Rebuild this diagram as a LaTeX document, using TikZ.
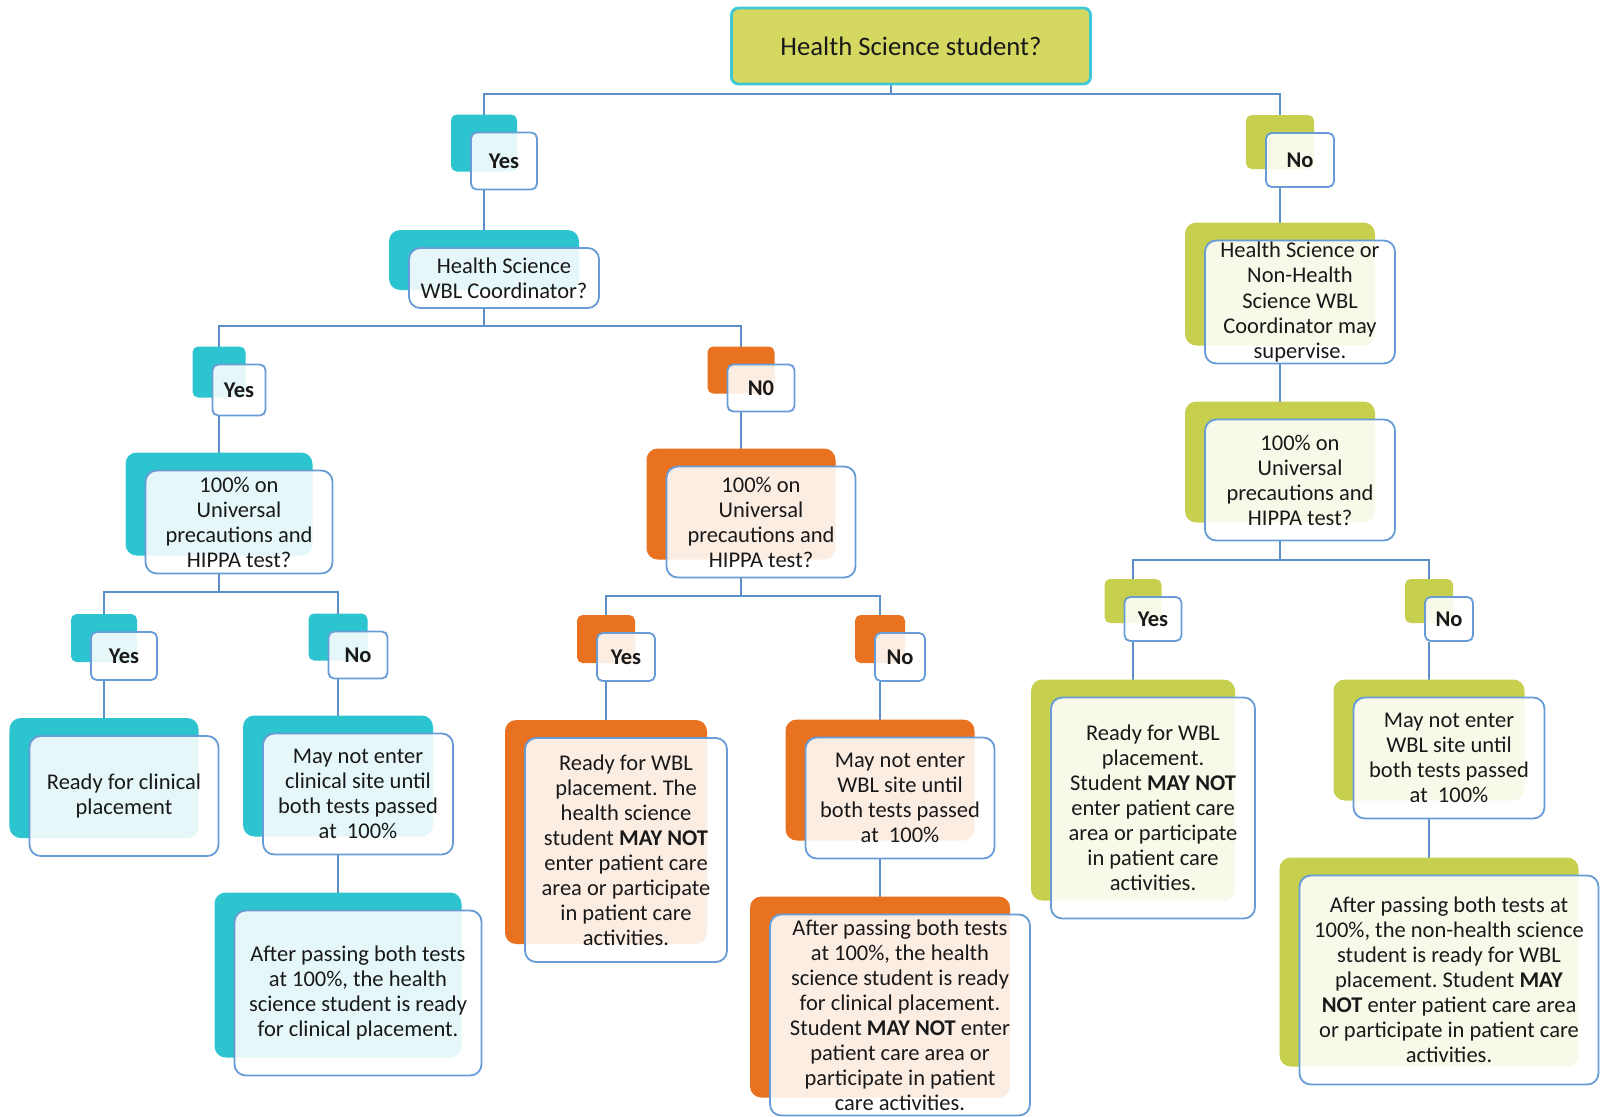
\documentclass[tikz,border=0pt]{standalone}
\usepackage{fontspec}
\setmainfont{Carlito}
\usepackage{tikz}
\usetikzlibrary{shadows, backgrounds}
\definecolor{cyanBox}{RGB}{44, 196, 206}
\definecolor{orangeBox}{RGB}{232, 114, 32}
\definecolor{limeBox}{RGB}{198, 208, 78}
\definecolor{topFill}{RGB}{212, 215, 96}
\definecolor{topBorder}{RGB}{62, 200, 212}
\definecolor{edgeBlue}{RGB}{104, 156, 214}
\definecolor{lineBlue}{RGB}{92, 142, 200}
\tikzstyle{titleNode} = [rectangle, rounded corners=5pt, minimum width=8.975cm, minimum height=1.9cm, text centered, draw=topBorder, line width=2pt, fill=topFill, text=black!90, font=\fontsize{19}{22}\selectfont]
\tikzstyle{answerNode} = [rectangle, rounded corners=4pt, inner sep=0pt, text centered, draw=edgeBlue, line width=1.3pt, fill=white, fill opacity=0.88, text opacity=1, text=black!90, font=\bfseries\fontsize{16}{18}\selectfont]
\tikzstyle{branchNode} = [rectangle, rounded corners=8pt, inner sep=0pt, align=center, draw=edgeBlue, line width=1.3pt, fill=white, fill opacity=0.88, text opacity=1, text=black!90, font=\fontsize{16}{17.8}\selectfont]
\tikzstyle{cyanBack} = [general shadow={shadow xshift=-0.5cm, shadow yshift=0.45cm, draw=none, fill=cyanBox, fill opacity=1}]
\tikzstyle{orangeBack} = [general shadow={shadow xshift=-0.5cm, shadow yshift=0.45cm, draw=none, fill=orangeBox, fill opacity=1}]
\tikzstyle{limeBack} = [general shadow={shadow xshift=-0.5cm, shadow yshift=0.45cm, draw=none, fill=limeBox, fill opacity=1}]
\tikzstyle{connector} = [line width=1.5pt, draw=lineBlue]
\frenchspacing

\begin{document}
\begin{tikzpicture}[node distance=3cm]
    \useasboundingbox (0,0) rectangle (40,-27.9);
    \node (top) [titleNode] at (22.775,-1.15) {Health Science student?};
    % Yes branch
    \node (yes1) [answerNode, cyanBack, minimum width=1.65cm, minimum height=1.425cm, below of=top, xshift=-10.175cm, yshift=0.125cm] {Yes};
    \node (hswbl) [branchNode, cyanBack, minimum width=4.75cm, minimum height=1.5cm, below of=yes1, yshift=0.075cm] {Health Science\\WBL Coordinator?};
    \node (yes2) [answerNode, cyanBack, minimum width=1.325cm, minimum height=1.275cm, below of=hswbl, xshift=-6.625cm, yshift=0.2cm] {Yes};
    \node (no2) [answerNode, orangeBack, minimum width=1.675cm, minimum height=1.175cm, below of=hswbl, xshift=6.425cm, yshift=0.25cm] {N0};
    % coordinator tests
    \node (univL) [branchNode, cyanBack, minimum width=4.675cm, minimum height=2.575cm, below of=yes2, yshift=-0.3cm] {100\% on\\Universal\\precautions and\\HIPPA test?};
    \node (yesL) [answerNode, cyanBack, minimum width=1.65cm, minimum height=1.2cm, below of=univL, xshift=-2.875cm, yshift=-0.35cm] {Yes};
    \node (noL) [answerNode, cyanBack, minimum width=1.475cm, minimum height=1.175cm, below of=univL, xshift=2.975cm, yshift=-0.325cm] {No};
    \node (readyL) [branchNode, cyanBack, minimum width=4.725cm, minimum height=3cm, below of=yesL, yshift=-0.5cm] {Ready for clinical\\placement};
    \node (mayL) [branchNode, cyanBack, minimum width=4.75cm, minimum height=3.025cm, below of=noL, yshift=-0.475cm] {May not enter\\clinical site until\\both tests passed\\at\ \ 100\%};
    \node (afterL) [branchNode, cyanBack, minimum width=6.175cm, minimum height=4.125cm, below of=mayL, yshift=-1.975cm] {After passing both tests\\at 100\%, the health\\science student is ready\\for clinical placement.};
    % no coordinator tests
    \node (univM) [branchNode, orangeBack, minimum width=4.725cm, minimum height=2.775cm, below of=no2, yshift=-0.35cm] {100\% on\\Universal\\precautions and\\HIPPA test?};
    \node (yesM) [answerNode, orangeBack, minimum width=1.45cm, minimum height=1.2cm, below of=univM, xshift=-3.375cm, yshift=-0.375cm] {Yes};
    \node (noM) [answerNode, orangeBack, minimum width=1.25cm, minimum height=1.2cm, below of=univM, xshift=3.475cm, yshift=-0.375cm] {No};
    \node (readyM) [branchNode, orangeBack, minimum width=5.05cm, minimum height=5.6cm, below of=yesM, yshift=-1.825cm] {Ready for WBL\\placement. The\\health science\\student \textbf{MAY NOT}\\enter patient care\\area or participate\\in patient care\\activities.};
    \node (mayM) [branchNode, orangeBack, minimum width=4.725cm, minimum height=3.025cm, below of=noM, yshift=-0.525cm] {May not enter\\WBL site until\\both tests passed\\at\ \ 100\%};
    \node (afterM) [branchNode, orangeBack, minimum width=6.5cm, minimum height=5.025cm, below of=mayM, yshift=-2.425cm] {After passing both tests\\at 100\%, the health\\science student is ready\\for clinical placement.\\Student \textbf{MAY NOT} enter\\patient care area or\\participate in patient\\care activities.};
    % No branch
    \node (no1) [answerNode, limeBack, minimum width=1.7cm, minimum height=1.35cm, below of=top, xshift=9.725cm, yshift=0.15cm] {No};
    \node (hsor) [branchNode, limeBack, minimum width=4.75cm, minimum height=3.075cm, below of=no1, yshift=-0.55cm] {Health Science or\\Non-Health\\Science WBL\\Coordinator may\\supervise.};
    \node (univR) [branchNode, limeBack, minimum width=4.75cm, minimum height=3.025cm, below of=hsor, yshift=-1.45cm] {100\% on\\Universal\\precautions and\\HIPPA test?};
    \node (yesR) [answerNode, limeBack, minimum width=1.425cm, minimum height=1.1cm, below of=univR, xshift=-3.675cm, yshift=-0.475cm] {Yes};
    \node (noR) [answerNode, limeBack, minimum width=1.2cm, minimum height=1.1cm, below of=univR, xshift=3.725cm, yshift=-0.475cm] {No};
    \node (readyR) [branchNode, limeBack, minimum width=5.1cm, minimum height=5.525cm, below of=yesR, yshift=-1.725cm] {Ready for WBL\\placement.\\Student \textbf{MAY NOT}\\enter patient care\\area or participate\\in patient care\\activities.};
    \node (mayR) [branchNode, limeBack, minimum width=4.775cm, minimum height=3.025cm, below of=noR, yshift=-0.475cm] {May not enter\\WBL site until\\both tests passed\\at\ \ 100\%};
    \node (afterR) [branchNode, limeBack, minimum width=7.475cm, minimum height=5.225cm, below of=mayR, yshift=-2.55cm] {After passing both tests at\\100\%, the non-health science\\student is ready for WBL\\placement. Student \textbf{MAY}\\\textbf{NOT} enter patient care area\\or participate in patient care\\activities.};

    \begin{pgfonlayer}{background}
    \draw [connector] ([xshift=-5mm]top.south) -- ++(0,-0.225) -| ([xshift=-5mm]yes1.north);
    \draw [connector] ([xshift=-5mm]top.south) -- ++(0,-0.225) -| ([xshift=-5mm]no1.north);
    % 
    \draw [connector] ([xshift=-5mm]yes1.south) -- ([xshift=-5mm]hswbl.north);
    \draw [connector] ([xshift=-5mm]hswbl.south) -- ++(0,-0.425) -| ([xshift=-5mm]yes2.north);
    \draw [connector] ([xshift=-5mm]hswbl.south) -- ++(0,-0.425) -| ([xshift=-5mm]no2.north);
    % 
    \draw [connector] ([xshift=-5mm]yes2.south) -- ([xshift=-5mm]univL.north);
    \draw [connector] ([xshift=-5mm]univL.south) -- ++(0,-0.45) -| ([xshift=-5mm]yesL.north);
    \draw [connector] ([xshift=-5mm]univL.south) -- ++(0,-0.45) -| ([xshift=-5mm]noL.north);
    \draw [connector] ([xshift=-5mm]yesL.south) -- ([xshift=-5mm]readyL.north);
    \draw [connector] ([xshift=-5mm]noL.south) -- ([xshift=-5mm]mayL.north);
    \draw [connector] ([xshift=-5mm]mayL.south) -- ([xshift=-5mm]afterL.north);
    % 
    \draw [connector] ([xshift=-5mm]no2.south) -- ([xshift=-5mm]univM.north);
    \draw [connector] ([xshift=-5mm]univM.south) -- ++(0,-0.44) -| ([xshift=-5mm]yesM.north);
    \draw [connector] ([xshift=-5mm]univM.south) -- ++(0,-0.44) -| ([xshift=-5mm]noM.north);
    \draw [connector] ([xshift=-5mm]yesM.south) -- ([xshift=-5mm]readyM.north);
    \draw [connector] ([xshift=-5mm]noM.south) -- ([xshift=-5mm]mayM.north);
    \draw [connector] ([xshift=-5mm]mayM.south) -- ([xshift=-5mm]afterM.north);
    % 
    \draw [connector] ([xshift=-5mm]no1.south) -- ([xshift=-5mm]hsor.north);
    \draw [connector] ([xshift=-5mm]hsor.south) -- ([xshift=-5mm]univR.north);
    \draw [connector] ([xshift=-5mm]univR.south) -- ++(0,-0.475) -| ([xshift=-5mm]yesR.north);
    \draw [connector] ([xshift=-5mm]univR.south) -- ++(0,-0.475) -| ([xshift=-5mm]noR.north);
    \draw [connector] ([xshift=-5mm]yesR.south) -- ([xshift=-5mm]readyR.north);
    \draw [connector] ([xshift=-5mm]noR.south) -- ([xshift=-5mm]mayR.north);
    \draw [connector] ([xshift=-5mm]mayR.south) -- ([xshift=-5mm]afterR.north);
    \end{pgfonlayer}
\end{tikzpicture}
\end{document}
